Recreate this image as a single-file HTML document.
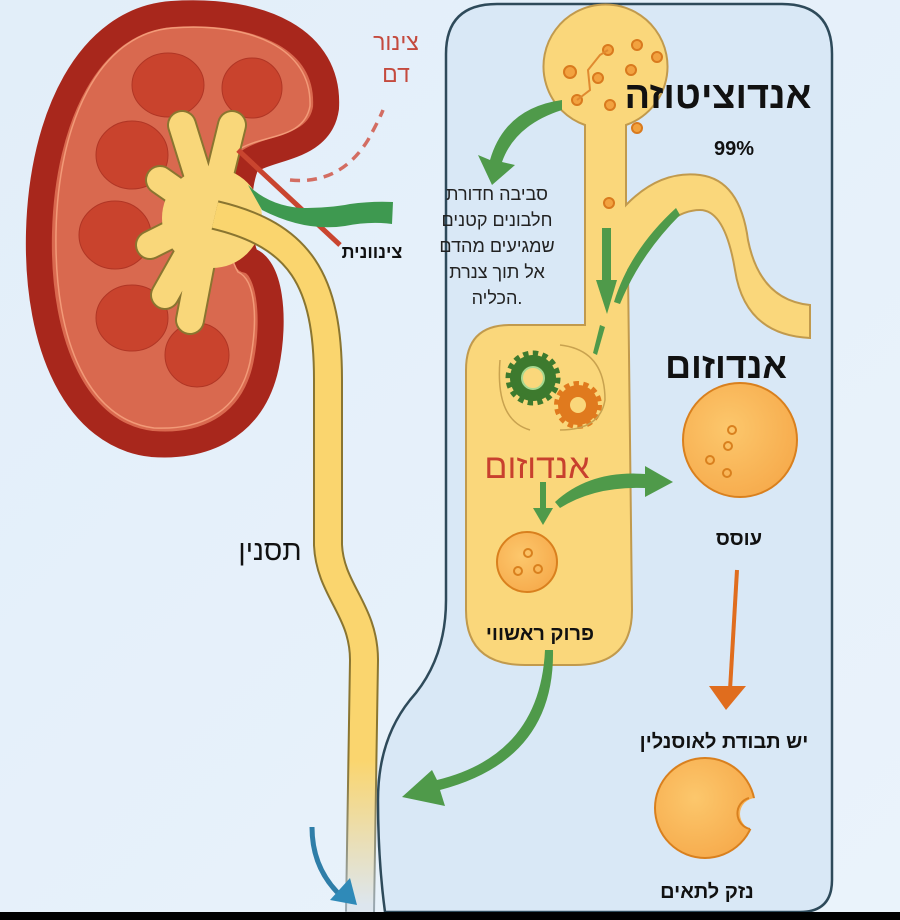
<!DOCTYPE html>
<html><head><meta charset="utf-8"><style>
html,body{margin:0;padding:0;background:#e4eff9;}
svg{display:block}
text{font-family:"Liberation Sans","Noto Sans CJK SC",sans-serif;}
</style></head><body>
<svg width="900" height="920" viewBox="0 0 900 920" xmlns="http://www.w3.org/2000/svg">
<defs>
<linearGradient id="bg" x1="0" y1="0" x2="1" y2="1"><stop offset="0" stop-color="#e2eef9"/><stop offset="1" stop-color="#eaf3fb"/></linearGradient>
<linearGradient id="ur" gradientUnits="userSpaceOnUse" x1="0" y1="760" x2="0" y2="905"><stop offset="0" stop-color="#fad56e"/><stop offset="1" stop-color="#dde6ee"/></linearGradient>
<linearGradient id="uro" gradientUnits="userSpaceOnUse" x1="0" y1="760" x2="0" y2="905"><stop offset="0" stop-color="#8a7530"/><stop offset="1" stop-color="#9aa8b0"/></linearGradient>
<radialGradient id="cell" cx="0.4" cy="0.4" r="0.7"><stop offset="0" stop-color="#fcc76c"/><stop offset="1" stop-color="#f6a94a"/></radialGradient>
<mask id="bite"><rect width="900" height="920" fill="#fff"/><circle cx="756" cy="814" r="16" fill="#000"/></mask>
</defs>
<rect width="900" height="920" fill="url(#bg)"/>
<!-- panel -->
<path d="M497,4 H782 Q832,4 832,54 V880 Q832,912 800,912 H385 Q378,860 378,800 Q378,740 410,700 Q446,660 446,600 V54 Q446,4 497,4 Z" fill="#d9e8f6" stroke="#2e4a5a" stroke-width="2.5"/>
<!-- kidney -->
<path d="M172,14 C262,8 330,40 326,108 C320,150 268,146 247,163 C236,185 236,238 247,260 C270,264 276,318 266,366 C252,430 200,448 152,444 C78,436 36,348 39,232 C42,118 88,20 172,14 Z" fill="#d9694f" stroke="#a8271c" stroke-width="26" stroke-linejoin="round"/>
<path d="M172,28 C250,22 312,48 310,106 C304,140 262,134 238,150 C222,180 222,245 238,272 C256,280 258,320 250,362 C238,416 196,430 154,428 C90,420 54,344 56,232 C58,124 98,34 172,28 Z" fill="none" stroke="#f29a78" stroke-width="1.5"/>
<g fill="#c9432d" stroke="#b03625" stroke-width="1">
<ellipse cx="168" cy="85" rx="36" ry="32"/><ellipse cx="252" cy="88" rx="30" ry="30"/>
<ellipse cx="132" cy="155" rx="36" ry="34"/><ellipse cx="115" cy="235" rx="36" ry="34"/>
<ellipse cx="132" cy="318" rx="36" ry="33"/><ellipse cx="197" cy="355" rx="32" ry="32"/>
</g>
<g fill="none" stroke-linecap="round" stroke-linejoin="round">
<g stroke="#8a7530" stroke-width="30">
<path d="M210,215 L182,125 M210,215 L232,125 M210,215 L160,180 M210,215 L150,245 M210,215 L165,295 M210,215 L190,320"/>
</g>
<g stroke="#f9d77a" stroke-width="26">
<path d="M210,215 L182,125 M210,215 L232,125 M210,215 L160,180 M210,215 L150,245 M210,215 L165,295 M210,215 L190,320"/>
</g>
</g>
<circle cx="212" cy="218" r="50" fill="#f9d77a"/>
<path d="M238,150 L340,245" stroke="#c9452f" stroke-width="5"/>
<!-- ureter -->
<path d="M215,215 C300,235 328,280 328,380 L328,545 C330,590 364,610 364,660 L360,912" fill="none" stroke="url(#uro)" stroke-width="30"/>
<path d="M215,215 C300,235 328,280 328,380 L328,545 C330,590 364,610 364,660 L360,912" fill="none" stroke="url(#ur)" stroke-width="26"/>
<path d="M248,185 Q268,205 300,208 Q330,208 350,204 Q372,201 393,202 L392,224 Q370,221 345,226 Q305,232 262,210 Z" fill="#3e9950"/>
<path d="M290,180 Q340,185 368,140 Q380,118 383,110" fill="none" stroke="#d36d62" stroke-width="3.5" stroke-dasharray="10,7"/>
<!-- tubules -->
<path d="M585,125 A62,62 0 1 1 626,125 L626,205 Q660,170 700,175 Q740,180 748,240 Q760,300 810,305 L810,338 Q745,335 735,270 Q725,210 700,210 Q665,210 628,270 L632,610 Q632,665 575,665 L525,665 Q466,665 466,610 L466,370 Q466,325 510,325 L585,325 Z" fill="#fad77b" stroke="#c19a4d" stroke-width="2"/>
<g fill="#f2a23f" stroke="#d97a1e" stroke-width="2">
<circle cx="637" cy="45" r="5"/><circle cx="657" cy="57" r="5"/><circle cx="631" cy="70" r="5"/><circle cx="598" cy="78" r="5"/><circle cx="570" cy="72" r="6"/><circle cx="577" cy="100" r="5"/><circle cx="610" cy="105" r="5"/><circle cx="637" cy="128" r="5"/><circle cx="608" cy="50" r="5"/><circle cx="609" cy="203" r="5"/>
</g>
<path d="M577,100 L590,90 L588,70 L600,55 L608,50" fill="none" stroke="#e08a30" stroke-width="2"/>
<!-- gears -->
<circle cx="533" cy="378" r="23" fill="#3d7a2e" stroke="#3d7a2e" stroke-width="9" stroke-dasharray="5,4"/>
<circle cx="533" cy="378" r="11" fill="#fad77b" stroke="#a8d890" stroke-width="2"/>
<circle cx="578" cy="405" r="20" fill="#e07a1e" stroke="#e07a1e" stroke-width="8" stroke-dasharray="5,4"/>
<circle cx="578" cy="405" r="8" fill="#fad77b"/>
<path d="M500,360 Q495,420 530,430 M560,345 Q605,350 605,400 Q600,430 560,430" fill="none" stroke="#c8a24f" stroke-width="1.5"/>
<!-- cells -->
<circle cx="740" cy="440" r="57" fill="url(#cell)" stroke="#d9801e" stroke-width="2"/>
<g fill="none" stroke="#d9801e" stroke-width="2"><circle cx="728" cy="446" r="4"/><circle cx="732" cy="430" r="4"/><circle cx="727" cy="473" r="4"/><circle cx="710" cy="460" r="4"/></g>
<circle cx="527" cy="562" r="30" fill="url(#cell)" stroke="#d9801e" stroke-width="2"/>
<g fill="none" stroke="#d9801e" stroke-width="2"><circle cx="528" cy="553" r="4"/><circle cx="518" cy="571" r="4"/><circle cx="538" cy="569" r="4"/></g>
<circle cx="705" cy="808" r="50" fill="url(#cell)" stroke="#d9801e" stroke-width="2" mask="url(#bite)"/>
<path d="M749,798 A16,16 0 0 0 750,829" fill="none" stroke="#d9801e" stroke-width="2"/>
<!-- green arrows -->
<g fill="#4f9a4a">
<path d="M562,100 Q505,108 490,160 L478,155 L492,185 L515,165 L502,162 Q515,125 562,110 Z"/>
<rect x="602" y="228" width="9" height="55"/><path d="M596,280 L617,280 L607,314 Z"/>
<path d="M676,208 Q630,250 614,302 L620,304 Q640,255 680,215 Z"/>
<path d="M600,325 L605,327 L597,355 L593,353 Z"/>
<rect x="540" y="482" width="6" height="30"/><path d="M533,508 L553,508 L543,525 Z"/>
<path d="M555,502 Q590,470 645,474 L645,466 L673,482 L645,497 L645,488 Q595,486 560,508 Z"/>
<path d="M545,650 L553,650 Q555,760 440,790 L445,806 L402,797 L432,770 L437,780 Q540,755 545,650 Z"/>
</g>
<path d="M737,570 L730,690" stroke="#e06d1e" stroke-width="4"/><path d="M709,686 L746,686 L726,710 Z" fill="#e06d1e"/>
<path d="M312,827 Q312,868 340,895" fill="none" stroke="#2f7ea8" stroke-width="5"/><path d="M330,900 L350,878 L357,905 Z" fill="#2f8ab8"/>
<!-- text -->
<g font-weight="bold" fill="#111" text-anchor="middle">
<text x="718" y="108" font-size="38">אנדוציטוזה</text>
<text x="734" y="155" font-size="20">99%</text>
<text x="726" y="378" font-size="36">אנדוזום</text>
<text x="739" y="545" font-size="20">עוסס</text>
<text x="540" y="640" font-size="20">פרוק ראשווי</text>
<text x="724" y="748" font-size="20">יש תבודת לאוסנלין</text>
<text x="707" y="898" font-size="20">נזק לתאים</text>
<text x="372" y="258" font-size="18">צינוונית</text>
</g>
<g fill="#222" text-anchor="middle" font-size="18">
<text x="497" y="200">סביבה חדורת</text>
<text x="497" y="226">חלבונים קטנים</text>
<text x="497" y="252">שמגיעים מהדם</text>
<text x="497" y="278">אל תוך צנרת</text>
<text x="497" y="304">הכליה.</text>
</g>
<text x="396" y="50" font-size="23" fill="#c44a3e" text-anchor="middle">צינור</text>
<text x="396" y="82" font-size="23" fill="#c44a3e" text-anchor="middle">דם</text>
<text x="537" y="478" font-size="34" fill="#c8402e" text-anchor="middle">אנדוזום</text>
<text x="270" y="560" font-size="28" fill="#111" text-anchor="middle">תסנין</text>
<rect x="0" y="912" width="900" height="8" fill="#000"/>
</svg>
</body></html>
